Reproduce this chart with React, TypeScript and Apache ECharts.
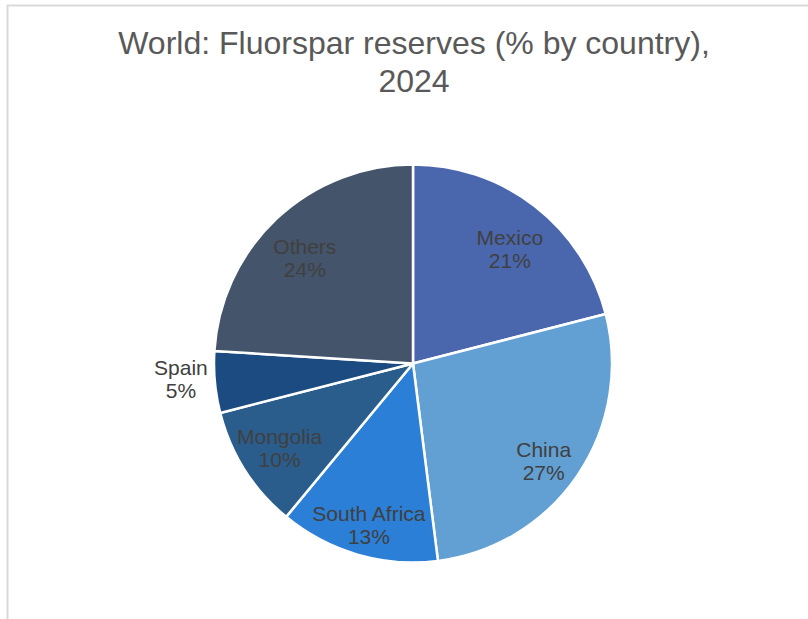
import React, { useEffect, useRef } from "react";
import * as echarts from "echarts";

const countries = ["Mexico", "China", "South Africa", "Mongolia", "Spain", "Others"];
const shares = [21, 27, 13, 10, 5, 24];
const colors = ["#4a67ae", "#629fd3", "#2b7fd6", "#2a5d8c", "#1b4b80", "#44546a"];
const titleText = "World: Fluorspar reserves (% by country),\n2024";
// small label nudges (px) to mimic the original "best fit" label placement
const labelNudgeY: Record<string, number> = {
  Mexico: 10,
  China: 9,
  "South Africa": 10,
  Mongolia: 0,
  Spain: -3,
  Others: 10,
};

export default function App() {
  const ref = useRef<HTMLDivElement>(null);
  useEffect(() => {
    if (!ref.current) return;
    const chart = echarts.init(ref.current, null, { renderer: "svg" });
    const R = 199;
    const cx = 413;
    const cy = 363.5;
    const font = "Liberation Sans, Arial, sans-serif";
    chart.setOption({
      animation: false,
      backgroundColor: "#ffffff",
      title: {
        text: titleText,
        left: 409,
        top: 19,
        textAlign: "center",
        textStyle: {
          fontFamily: font,
          fontSize: 32,
          fontWeight: "normal",
          color: "#595959",
          lineHeight: 38,
        },
      },
      graphic: [
        {
          type: "polyline",
          shape: { points: [[7.5, 619], [7.5, 5.5], [808, 5.5]] },
          style: { stroke: "#d9d9d9", lineWidth: 2, fill: "none" },
          silent: true,
        },
      ],
      series: [
        {
          type: "pie",
          center: [cx, cy],
          radius: [0, R],
          startAngle: 90,
          clockwise: true,
          silent: true,
          label: { show: false },
          labelLine: { show: false },
          itemStyle: { borderColor: "#ffffff", borderWidth: 2.5 },
          data: countries.map((n, i) => ({ name: n, value: shares[i], itemStyle: { color: colors[i] } })),
        },
        {
          type: "pie",
          center: [cx, cy],
          radius: [111, R],
          startAngle: 90,
          clockwise: true,
          silent: true,
          z: 5,
          itemStyle: { color: "rgba(0,0,0,0)", borderWidth: 0 },
          label: {
            show: true,
            position: "inside",
            formatter: "{b}\n{c}%",
            fontFamily: font,
            fontSize: 21,
            lineHeight: 23,
            color: "#404040",
          },
          labelLine: { show: false },
          data: countries.map((n, i) => ({
            name: n,
            value: shares[i],
            label:
              n === "Spain"
                ? {
                    position: "outside",
                    offset: [0, labelNudgeY[n]],
                    formatter: "{a|{b}}\n{a|{c}%}",
                    rich: {
                      a: {
                        width: 56,
                        align: "center",
                        fontFamily: font,
                        fontSize: 21,
                        lineHeight: 23,
                        color: "#404040",
                      },
                    },
                  }
                : { offset: [0, labelNudgeY[n]] },
            labelLine: n === "Spain" ? { show: false, length: 1, length2: 0 } : undefined,
          })),
        },
      ],
    });
    return () => chart.dispose();
  }, []);
  return (
    <div
      ref={ref}
      style={{ position: "absolute", left: 0, top: 0, width: 808, height: 619 }}
    />
  );
}
